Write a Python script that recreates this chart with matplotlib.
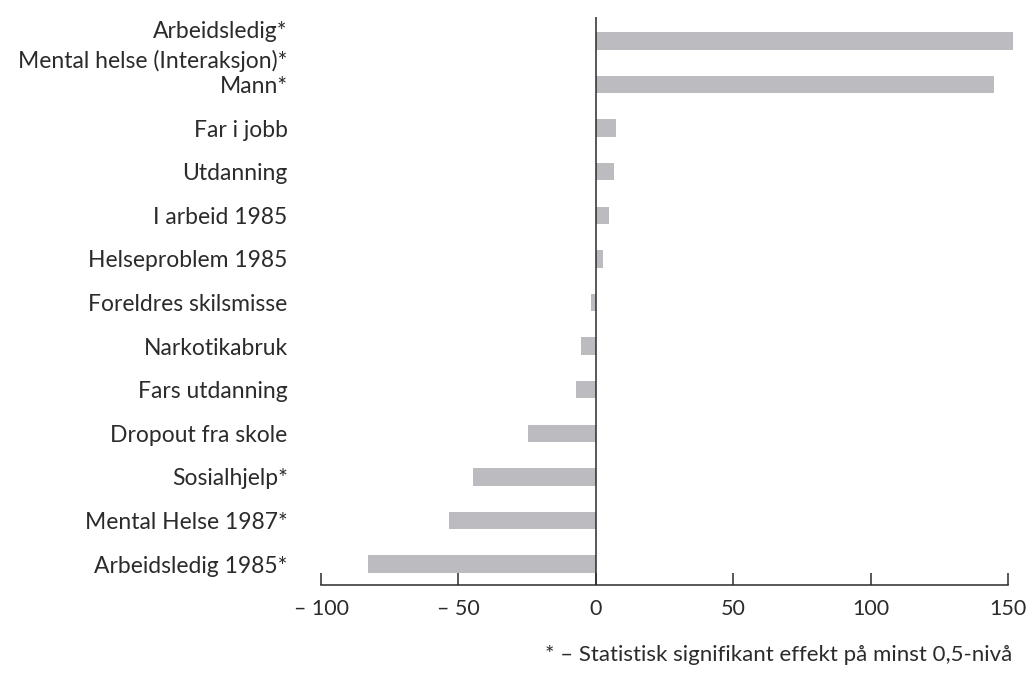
import numpy as np
import matplotlib.pyplot as plt

# data (top to bottom)
labels = ['Arbeidsledig*\nMental helse (Interaksjon)*', 'Mann*', 'Far i jobb', 'Utdanning',
          'I arbeid 1985', 'Helseproblem 1985', 'Foreldres skilsmisse', 'Narkotikabruk',
          'Fars utdanning', 'Dropout fra skole', 'Sosialhjelp*', 'Mental Helse 1987*',
          'Arbeidsledig 1985*']
effects = [152, 145, 7.3, 6.5, 4.7, 2.5, -1.9, -5.2, -7.3, -24.8, -44.8, -53.5, -83]
xticks = [-100, -50, 0, 50, 100, 150]
xticklabels = ['\u2013 100', '\u2013 50', '0', '50', '100', '150']
note = '* \u2013 Statistisk signifikant effekt p\u00e5 minst 0,5-niv\u00e5'

plt.rcParams['font.family'] = ['Lato', 'DejaVu Sans']
text_col = '#2b2b2b'
bar_col = '#bcbcc0'

fig = plt.figure(figsize=(10.27, 6.73), dpi=100)
ax = fig.add_axes([0.3126, 0.1308, 0.6768, 0.8439])

y = np.arange(len(labels))
ax.barh(y, effects, height=0.4, color=bar_col)
ax.axvline(0, color=text_col, lw=1.1)

ax.set_xlim(-100, 153)
ax.set_ylim(len(labels) - 1 + 0.48, -0.55)

for s in ['top', 'right', 'left']:
    ax.spines[s].set_visible(False)
ax.spines['bottom'].set_bounds(-100, 150)
ax.spines['bottom'].set_color(text_col)
ax.spines['bottom'].set_linewidth(1.1)

ax.set_xticks(xticks)
ax.set_xticklabels(xticklabels, fontsize=15.5, color=text_col)
ax.tick_params(axis='x', direction='in', length=9, width=1.1, color=text_col, pad=10)

ax.set_yticks(y)
ax.set_yticklabels(labels, fontsize=16.5, color=text_col)
ax.tick_params(axis='y', length=0, pad=24)
ax.get_yticklabels()[0].set_linespacing(1.42)

fig.text(0.986, 0.027, note, ha='right', va='center', fontsize=16, color=text_col)

fig.savefig('out.png', dpi=100)
